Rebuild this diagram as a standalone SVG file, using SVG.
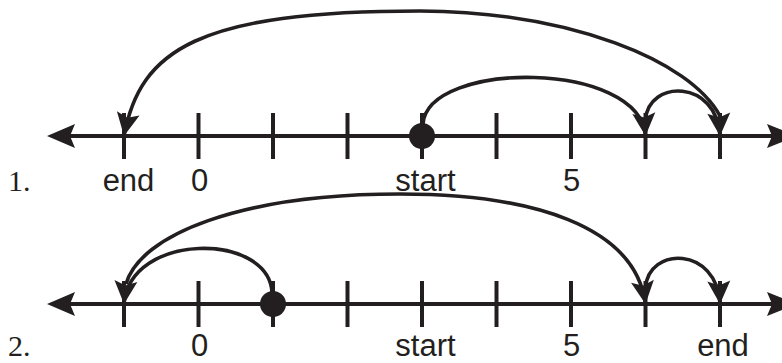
<svg xmlns="http://www.w3.org/2000/svg" width="782" height="363" viewBox="0 0 782 363">
<defs>
<style>
.axis{stroke:#231f20;stroke-width:4;fill:none}
.tick{stroke:#231f20;stroke-width:4}
.jump{stroke:#231f20;stroke-width:3.6;fill:none;marker-end:url(#ah)}
.dot{fill:#231f20}
.head{fill:#231f20}
.lbl{font-family:"Liberation Sans",Arial,sans-serif;font-size:31px;fill:#231f20;text-anchor:middle}
.num{font-family:"Liberation Serif","Times New Roman",serif;font-size:30px;fill:#231f20}
</style>
<marker id="ah" markerUnits="userSpaceOnUse" viewBox="-24 -12 25 24" markerWidth="25" markerHeight="24" refX="0" refY="0" orient="auto">
<path d="M0,0 L-23,-11.5 L-18.5,0 L-23,11.5 Z" fill="#231f20"/>
</marker>
<path id="lhead" d="M47,0 L75,-12 L70,0 L75,12 Z"/>
<path id="rhead" d="M797,0 L767,-12 L772,0 L767,12 Z"/>
<g id="ticks">
<line class="tick" x1="124" y1="-23" x2="124" y2="23"/>
<line class="tick" x1="198.5" y1="-23" x2="198.5" y2="23"/>
<line class="tick" x1="273" y1="-23" x2="273" y2="23"/>
<line class="tick" x1="347.5" y1="-23" x2="347.5" y2="23"/>
<line class="tick" x1="422" y1="-23" x2="422" y2="23"/>
<line class="tick" x1="496.5" y1="-23" x2="496.5" y2="23"/>
<line class="tick" x1="571" y1="-23" x2="571" y2="23"/>
<line class="tick" x1="645.5" y1="-23" x2="645.5" y2="23"/>
<line class="tick" x1="720" y1="-23" x2="720" y2="23"/>
</g>
</defs>
<rect width="782" height="363" fill="#ffffff"/>

<g id="numberline1">
<line class="axis" x1="60" y1="136" x2="780" y2="136"/>
<use href="#lhead" class="head" transform="translate(0,136)"/>
<use href="#rhead" class="head" transform="translate(0,136)"/>
<use href="#ticks" transform="translate(0,136)"/>
</g>
<g id="numberline2">
<line class="axis" x1="60" y1="304" x2="780" y2="304"/>
<use href="#lhead" class="head" transform="translate(0,304)"/>
<use href="#rhead" class="head" transform="translate(0,304)"/>
<use href="#ticks" transform="translate(0,304)"/>
</g>

<g id="connectors">
<path class="jump" d="M423,124 C428,60 640,60 645.5,136"/>
<path class="jump" d="M645.5,120 C648,79 717,79 720,136"/>
<path class="jump" d="M720,116 C690,60 570,12 420,11 C198,11 140,50 124,136"/>
<path class="jump" d="M272,292 C268,232 130,232 124,304"/>
<path class="jump" d="M126,284 C140,235 240,194 400,194 C530,194 635,225 645.5,304"/>
<path class="jump" d="M645.5,288 C648,246 717,246 720,304"/>
</g>

<g id="start1"><circle class="dot" cx="422" cy="136" r="13"/></g>
<g id="start2"><circle class="dot" cx="273" cy="304" r="13"/></g>

<g id="labels1">
<text class="num" x="8" y="191">1.</text>
<text class="lbl" x="128.5" y="191">end</text>
<text class="lbl" x="199.5" y="191">0</text>
<text class="lbl" x="425.5" y="191">start</text>
<text class="lbl" x="571.5" y="191">5</text>
</g>
<g id="labels2">
<text class="num" x="8" y="356">2.</text>
<text class="lbl" x="199.5" y="356">0</text>
<text class="lbl" x="425.5" y="356">start</text>
<text class="lbl" x="571.5" y="356">5</text>
<text class="lbl" x="723" y="356">end</text>
</g>
</svg>
